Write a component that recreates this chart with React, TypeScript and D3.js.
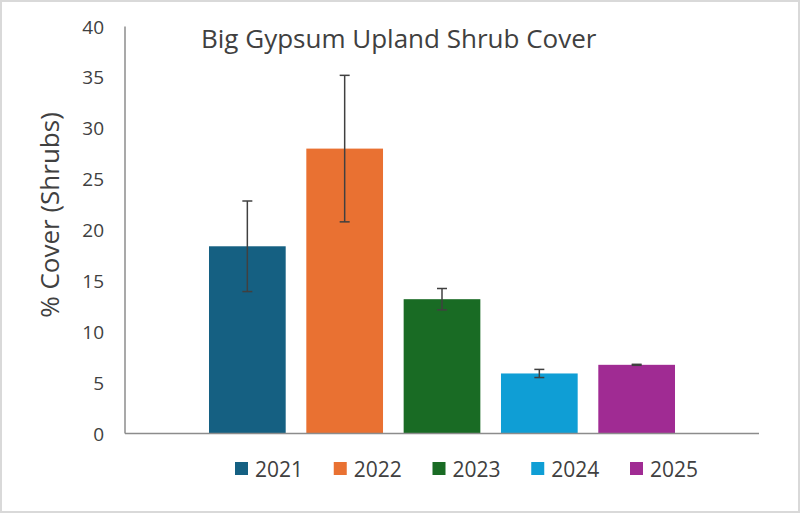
import { useMemo } from 'react';
import * as d3 from 'd3';

// Values
const years = ['2021', '2022', '2023', '2024', '2025'];
const cover = [18.4, 28.0, 13.2, 5.9, 6.75];
const errors = [4.45, 7.2, 1.05, 0.4, 0.05];
const colors = ['#156082', '#E97132', '#196B24', '#0F9ED5', '#A02B93'];
const yTickValues = [0, 5, 10, 15, 20, 25, 30, 35, 40];

const width = 800;
const height = 513;
const margin = { top: 26.5, right: 41, bottom: 79.5, left: 125 };
const font = "'Open Sans', 'Liberation Sans', sans-serif";

export default function App() {
  const innerW = width - margin.left - margin.right;
  const innerH = height - margin.top - margin.bottom;

  const { xScale, yScale } = useMemo(() => {
    const xScale = d3
      .scaleBand<string>()
      .domain(years)
      .range([0, innerW])
      .paddingInner(0.212)
      .paddingOuter(0.863);
    const yScale = d3.scaleLinear().domain([0, 40]).range([innerH, 0]);
    return { xScale, yScale };
  }, [innerW, innerH]);

  const legendX = d3.scaleLinear().domain([0, 4]).range([235, 630]);

  return (
    <svg
      width={width}
      height={height}
      style={{ position: 'absolute', left: 0, top: 0, background: '#fff' }}
    >
      {/* frame */}
      <rect x={1} y={1} width={width - 2} height={height - 2} fill='none' stroke='#d9d9d9' strokeWidth={2} />

      {/* title */}
      <text x={201} y={48} fontSize={26} fill='#404040' fontFamily={font}>
        Big Gypsum Upland Shrub Cover
      </text>

      {/* y axis title */}
      <text
        transform='translate(59,215) rotate(-90)'
        textAnchor='middle'
        fontSize={26}
        fill='#404040'
        fontFamily={font}
      >
        % Cover (Shrubs)
      </text>

      <g transform={`translate(${margin.left},${margin.top})`}>
        {/* y tick labels */}
        {yTickValues.map((t) => (
          <text
            key={t}
            x={-21}
            y={yScale(t)}
            textAnchor='end'
            dominantBaseline='central'
            fontSize={19}
            fill='#404040'
            fontFamily={font}
          >
            {t}
          </text>
        ))}

        {/* bars */}
        {years.map((yr, i) => (
          <rect
            key={yr}
            x={xScale(yr)}
            y={yScale(cover[i])}
            width={xScale.bandwidth()}
            height={innerH - yScale(cover[i])}
            fill={colors[i]}
          />
        ))}

        {/* error bars */}
        {years.map((yr, i) => {
          const cx = (xScale(yr) ?? 0) + xScale.bandwidth() / 2;
          const hi = yScale(cover[i] + errors[i]);
          const lo = yScale(cover[i] - errors[i]);
          return (
            <g key={yr} stroke='#404040' strokeWidth={1.5}>
              <line x1={cx} x2={cx} y1={hi} y2={lo} />
              <line x1={cx - 5} x2={cx + 5} y1={hi} y2={hi} />
              <line x1={cx - 5} x2={cx + 5} y1={lo} y2={lo} />
            </g>
          );
        })}

        {/* axes */}
        <line x1={0} x2={0} y1={0} y2={innerH} stroke='#8c8c8c' strokeWidth={1.5} />
        <line x1={0} x2={innerW} y1={innerH} y2={innerH} stroke='#8c8c8c' strokeWidth={1.5} />
      </g>

      {/* legend */}
      {years.map((yr, i) => (
        <g key={yr} transform={`translate(${legendX(i)},0)`}>
          <rect x={0} y={462} width={13} height={13} fill={colors[i]} />
          <text x={20} y={477} fontSize={21} fill='#404040' fontFamily={font}>
            {yr}
          </text>
        </g>
      ))}
    </svg>
  );
}
